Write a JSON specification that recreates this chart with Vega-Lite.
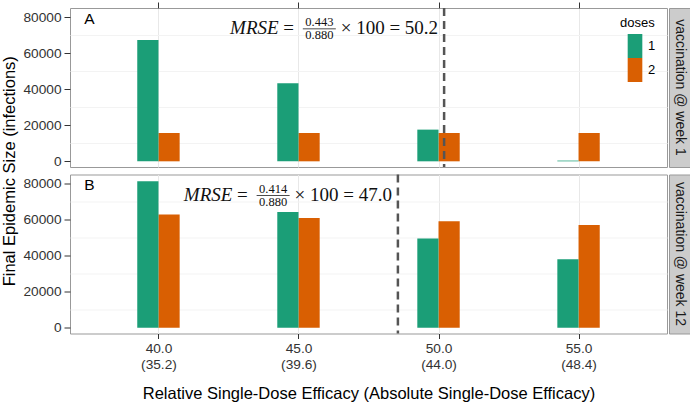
{
  "$schema": "https://vega.github.io/schema/vega-lite/v6.json",
  "background": "white",
  "padding": {"left": 0, "top": 1, "right": 0, "bottom": 0},
  "datasets": {
    "bars": [
      {"panel": "A", "efficacy": 40, "dose": "1", "infections": 67250},
      {"panel": "A", "efficacy": 45, "dose": "1", "infections": 43240},
      {"panel": "A", "efficacy": 50, "dose": "1", "infections": 17570},
      {"panel": "A", "efficacy": 55, "dose": "1", "infections": 400},
      {"panel": "A", "efficacy": 40, "dose": "2", "infections": 15700},
      {"panel": "A", "efficacy": 45, "dose": "2", "infections": 15700},
      {"panel": "A", "efficacy": 50, "dose": "2", "infections": 15700},
      {"panel": "A", "efficacy": 55, "dose": "2", "infections": 15700},
      {"panel": "B", "efficacy": 40, "dose": "1", "infections": 81270},
      {"panel": "B", "efficacy": 45, "dose": "1", "infections": 64270},
      {"panel": "B", "efficacy": 50, "dose": "1", "infections": 49530},
      {"panel": "B", "efficacy": 55, "dose": "1", "infections": 38060},
      {"panel": "B", "efficacy": 40, "dose": "2", "infections": 62830},
      {"panel": "B", "efficacy": 45, "dose": "2", "infections": 60940},
      {"panel": "B", "efficacy": 50, "dose": "2", "infections": 59110},
      {"panel": "B", "efficacy": 55, "dose": "2", "infections": 57060}
    ],
    "panels": [
      {"panel": "A", "line_x": 50.2, "ann_y": 70400, "num": "0.443", "den": "0.880", "rest": "× 100 = 50.2", "mrse": "MRSE", "eq": "=", "letter": "A", "letter_x": 37.35, "letter_y": 76300, "strip": "vaccination @ week 1"},
      {"panel": "B", "line_x": 48.55, "ann_y": 70400, "num": "0.414", "den": "0.880", "rest": "× 100 = 47.0", "mrse": "MRSE", "eq": "=", "letter": "B", "letter_x": 37.35, "letter_y": 76300, "strip": "vaccination @ week 12"}
    ]
  },
  "config": {
    "font": "Liberation Sans",
    "view": {"stroke": "#999999", "strokeWidth": 1},
    "axis": {"domain": false, "labelFont": "Liberation Sans", "titleFont": "Liberation Sans", "labelColor": "#333333", "tickColor": "#333333", "labelFontSize": 13.7, "titleFontWeight": "normal", "titleColor": "#000000", "titleFontSize": 16.5, "labelOverlap": false}
  },
  "columns": 2,
  "spacing": {"row": 7.5, "column": 2},
  "bounds": "flush",
  "concat": [
    {
      "width": 597,
      "height": 159,
      "resolve": {"axis": {"y": "independent"}},
      "layer": [
        {
          "data": {"name": "bars"},
          "transform": [{"filter": "datum.panel === 'A' && datum.dose === '2'"}],
          "mark": {"type": "bar", "width": 21.2, "xOffset": 10.6},
          "encoding": {
            "x": {"field": "efficacy", "type": "quantitative", "scale": {"domain": [37.02, 57.98], "nice": false}},
            "y": {"field": "infections", "type": "quantitative", "scale": {"domain": [-3150, 85000], "nice": false},
              "axis": {"orient": "left", "values": [10000, 30000, 50000, 70000], "labels": false, "ticks": false, "grid": true, "gridColor": "#f3f3f3", "title": null}},
            "color": {"field": "dose", "type": "nominal", "scale": {"domain": ["1", "2"], "range": ["#1b9e77", "#d95f02"]}}
          }
        },
        {
          "data": {"name": "bars"},
          "transform": [{"filter": "datum.panel === 'A' && datum.dose === '1'"}],
          "mark": {"type": "bar", "width": 21.2, "xOffset": -10.6},
          "encoding": {
            "x": {"field": "efficacy", "type": "quantitative", "scale": {"domain": [37.02, 57.98], "nice": false},
              "axis": {"orient": "top", "values": [40, 45, 50, 55], "labels": false, "ticks": true, "tickSize": 6, "grid": true, "gridColor": "#e8e8e8", "title": null}},
            "y": {"field": "infections", "type": "quantitative", "scale": {"domain": [-3150, 85000], "nice": false},
              "axis": {"orient": "left", "values": [0, 20000, 40000, 60000, 80000], "format": "d", "labelOverlap": false,
                "gridColor": "#e8e8e8", "tickSize": 6, "labelPadding": 3,
                "title": "Final Epidemic Size (infections)", "titleX": -56, "titleY": 162.75, "titleAngle": -90, "titleAlign": "center", "titleBaseline": "alphabetic"}},
            "color": {"field": "dose", "type": "nominal", "scale": {"domain": ["1", "2"], "range": ["#1b9e77", "#d95f02"]},
              "legend": {"title": "doses", "orient": "none", "legendX": 550, "legendY": 8.5, "symbolType": "M-0.61,-1H0.61V1H-0.61Z", "symbolSize": 576, "symbolStrokeWidth": 0, "symbolOpacity": 1, "symbolOffset": 3, "labelOffset": 1, "rowPadding": 0, "titlePadding": 4.5, "padding": 0, "titleFontSize": 13, "titleFontWeight": "normal", "titleColor": "#000000", "labelFontSize": 13, "labelColor": "#000000"}}
          }
        },
        {
          "data": {"name": "panels"},
          "transform": [{"filter": "datum.panel === 'A'"}],
          "layer": [
            {"mark": {"type": "rule", "strokeDash": [8, 5], "strokeWidth": 2.5, "color": "#555555"},
              "encoding": {"x": {"field": "line_x", "type": "quantitative", "scale": {"domain": [37.02, 57.98], "nice": false}}}},
            {"mark": {"type": "text", "align": "right", "baseline": "alphabetic", "dx": -6, "font": "Liberation Serif", "fontSize": 19, "color": "#111111"},
              "encoding": {"x": {"field": "line_x", "type": "quantitative"}, "y": {"field": "ann_y", "type": "quantitative", "axis": null}, "text": {"field": "rest"}}},
            {"mark": {"type": "text", "align": "center", "baseline": "alphabetic", "dx": -124.8, "dy": -7.9, "font": "Liberation Serif", "fontSize": 12.5, "color": "#111111"},
              "encoding": {"x": {"field": "line_x", "type": "quantitative"}, "y": {"field": "ann_y", "type": "quantitative", "axis": null}, "text": {"field": "num"}}},
            {"mark": {"type": "text", "align": "center", "baseline": "alphabetic", "dx": -124.8, "dy": 4.8, "font": "Liberation Serif", "fontSize": 12.5, "color": "#111111"},
              "encoding": {"x": {"field": "line_x", "type": "quantitative"}, "y": {"field": "ann_y", "type": "quantitative", "axis": null}, "text": {"field": "den"}}},
            {"mark": {"type": "tick", "orient": "horizontal", "size": 33, "thickness": 0.8, "xOffset": -124.8, "yOffset": -5.4, "color": "#111111", "opacity": 1},
              "encoding": {"x": {"field": "line_x", "type": "quantitative"}, "y": {"field": "ann_y", "type": "quantitative", "axis": null}}},
            {"mark": {"type": "text", "align": "right", "baseline": "alphabetic", "dx": -165.5, "letterSpacing": 1.6, "font": "Liberation Serif", "fontStyle": "italic", "fontSize": 19, "color": "#111111"},
              "encoding": {"x": {"field": "line_x", "type": "quantitative"}, "y": {"field": "ann_y", "type": "quantitative", "axis": null}, "text": {"field": "mrse"}}},
            {"mark": {"type": "text", "align": "center", "baseline": "alphabetic", "dx": -155.5, "font": "Liberation Serif", "fontSize": 19, "color": "#111111"},
              "encoding": {"x": {"field": "line_x", "type": "quantitative"}, "y": {"field": "ann_y", "type": "quantitative", "axis": null}, "text": {"field": "eq"}}},
            {"mark": {"type": "text", "align": "left", "baseline": "alphabetic", "fontSize": 15.5, "color": "#000000"},
              "encoding": {"x": {"field": "letter_x", "type": "quantitative"}, "y": {"field": "letter_y", "type": "quantitative", "axis": null}, "text": {"field": "letter"}}}
          ]
        }
      ]
    },
    {
      "width": 21,
      "height": 159,
      "view": {"fill": "#cccccc", "stroke": "#999999"},
      "data": {"name": "panels"},
      "transform": [{"filter": "datum.panel === 'A'"}],
      "mark": {"type": "text", "angle": 90, "align": "center", "baseline": "middle", "fontSize": 14, "color": "#1a1a1a"},
      "encoding": {"text": {"field": "strip"}}
    },
    {
      "width": 597,
      "height": 159,
      "resolve": {"axis": {"y": "independent"}},
      "layer": [
        {
          "data": {"name": "bars"},
          "transform": [{"filter": "datum.panel === 'B' && datum.dose === '2'"}],
          "mark": {"type": "bar", "width": 21.2, "xOffset": 10.6},
          "encoding": {
            "x": {"field": "efficacy", "type": "quantitative", "scale": {"domain": [37.02, 57.98], "nice": false}},
            "y": {"field": "infections", "type": "quantitative", "scale": {"domain": [-3150, 85000], "nice": false},
              "axis": {"orient": "left", "values": [10000, 30000, 50000, 70000], "labels": false, "ticks": false, "grid": true, "gridColor": "#f3f3f3", "title": null}},
            "color": {"field": "dose", "type": "nominal", "scale": {"domain": ["1", "2"], "range": ["#1b9e77", "#d95f02"]}}
          }
        },
        {
          "data": {"name": "bars"},
          "transform": [{"filter": "datum.panel === 'B' && datum.dose === '1'"}],
          "mark": {"type": "bar", "width": 21.2, "xOffset": -10.6},
          "encoding": {
            "x": {"field": "efficacy", "type": "quantitative", "scale": {"domain": [37.02, 57.98], "nice": false},
              "axis": {"orient": "bottom", "values": [40, 45, 50, 55],
                "labelExpr": "datum.value === 40 ? ['40.0', '(35.2)'] : datum.value === 45 ? ['45.0', '(39.6)'] : datum.value === 50 ? ['50.0', '(44.0)'] : ['55.0', '(48.4)']",
                "labelLineHeight": 16, "tickSize": 5, "labelPadding": 3, "grid": true, "gridColor": "#e8e8e8",
                "title": "Relative Single-Dose Efficacy (Absolute Single-Dose Efficacy)", "titlePadding": 14}},
            "y": {"field": "infections", "type": "quantitative", "scale": {"domain": [-3150, 85000], "nice": false},
              "axis": {"orient": "left", "values": [0, 20000, 40000, 60000, 80000], "format": "d", "labelOverlap": false,
                "gridColor": "#e8e8e8", "tickSize": 6, "labelPadding": 3, "title": null}},
            "color": {"field": "dose", "type": "nominal", "scale": {"domain": ["1", "2"], "range": ["#1b9e77", "#d95f02"]}}
          }
        },
        {
          "data": {"name": "panels"},
          "transform": [{"filter": "datum.panel === 'B'"}],
          "layer": [
            {"mark": {"type": "rule", "strokeDash": [8, 5], "strokeWidth": 2.5, "color": "#555555"},
              "encoding": {"x": {"field": "line_x", "type": "quantitative", "scale": {"domain": [37.02, 57.98], "nice": false}}}},
            {"mark": {"type": "text", "align": "right", "baseline": "alphabetic", "dx": -6, "font": "Liberation Serif", "fontSize": 19, "color": "#111111"},
              "encoding": {"x": {"field": "line_x", "type": "quantitative"}, "y": {"field": "ann_y", "type": "quantitative", "axis": null}, "text": {"field": "rest"}}},
            {"mark": {"type": "text", "align": "center", "baseline": "alphabetic", "dx": -124.8, "dy": -7.9, "font": "Liberation Serif", "fontSize": 12.5, "color": "#111111"},
              "encoding": {"x": {"field": "line_x", "type": "quantitative"}, "y": {"field": "ann_y", "type": "quantitative", "axis": null}, "text": {"field": "num"}}},
            {"mark": {"type": "text", "align": "center", "baseline": "alphabetic", "dx": -124.8, "dy": 4.8, "font": "Liberation Serif", "fontSize": 12.5, "color": "#111111"},
              "encoding": {"x": {"field": "line_x", "type": "quantitative"}, "y": {"field": "ann_y", "type": "quantitative", "axis": null}, "text": {"field": "den"}}},
            {"mark": {"type": "tick", "orient": "horizontal", "size": 33, "thickness": 0.8, "xOffset": -124.8, "yOffset": -5.4, "color": "#111111", "opacity": 1},
              "encoding": {"x": {"field": "line_x", "type": "quantitative"}, "y": {"field": "ann_y", "type": "quantitative", "axis": null}}},
            {"mark": {"type": "text", "align": "right", "baseline": "alphabetic", "dx": -165.5, "letterSpacing": 1.6, "font": "Liberation Serif", "fontStyle": "italic", "fontSize": 19, "color": "#111111"},
              "encoding": {"x": {"field": "line_x", "type": "quantitative"}, "y": {"field": "ann_y", "type": "quantitative", "axis": null}, "text": {"field": "mrse"}}},
            {"mark": {"type": "text", "align": "center", "baseline": "alphabetic", "dx": -155.5, "font": "Liberation Serif", "fontSize": 19, "color": "#111111"},
              "encoding": {"x": {"field": "line_x", "type": "quantitative"}, "y": {"field": "ann_y", "type": "quantitative", "axis": null}, "text": {"field": "eq"}}},
            {"mark": {"type": "text", "align": "left", "baseline": "alphabetic", "fontSize": 15.5, "color": "#000000"},
              "encoding": {"x": {"field": "letter_x", "type": "quantitative"}, "y": {"field": "letter_y", "type": "quantitative", "axis": null}, "text": {"field": "letter"}}}
          ]
        }
      ]
    },
    {
      "width": 21,
      "height": 159,
      "view": {"fill": "#cccccc", "stroke": "#999999"},
      "data": {"name": "panels"},
      "transform": [{"filter": "datum.panel === 'B'"}],
      "mark": {"type": "text", "angle": 90, "align": "center", "baseline": "middle", "fontSize": 14, "color": "#1a1a1a"},
      "encoding": {"text": {"field": "strip"}}
    }
  ]
}
